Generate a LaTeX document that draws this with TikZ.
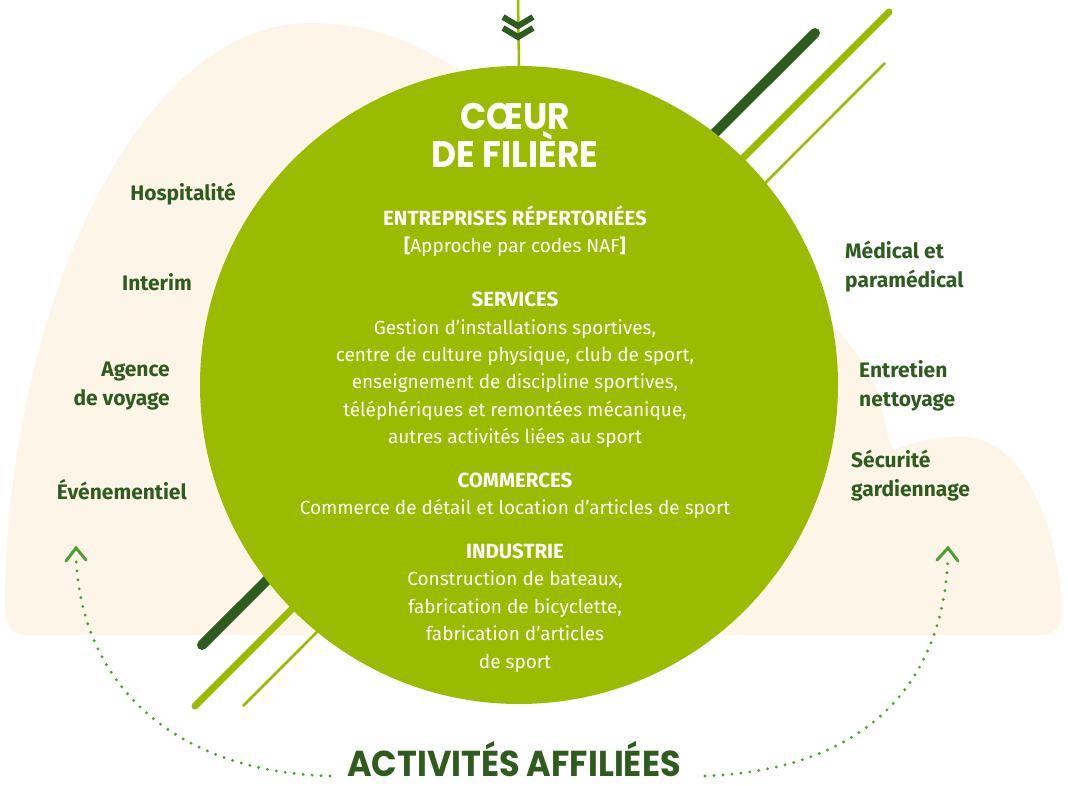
\documentclass[tikz,border=0pt]{standalone}
\usepackage{fontspec}
\setmainfont{Fira Sans}
\newfontfamily\titlefont{Poppins}[FakeStretch=0.93]
\usepackage{xcolor}
\definecolor{cCore}{HTML}{9BBB00}
\definecolor{cDark}{HTML}{2E5C1E}
\definecolor{cLeaf}{HTML}{4CA030}
\definecolor{cSand}{HTML}{FDF5E7}
\usetikzlibrary{positioning,calc}
\tikzset{
  core-disc/.style={circle,fill=cCore,minimum size=638pt,inner sep=0pt},
  core-title/.style={text=white,align=center,
    font=\titlefont\bfseries\fontsize{37}{38}\selectfont},
  core-text/.style={text=white,align=center,inner sep=0pt,
    font=\fontsize{19}{27.4}\selectfont},
  side-label/.style={text=cDark,inner sep=0pt,
    font=\bfseries\fontsize{21}{29}\selectfont},
  side-left/.style={side-label,anchor=east,align=right},
  side-right/.style={side-label,anchor=west,align=left},
  ray-dark/.style={draw=cDark,line width=10pt,line cap=round},
  ray-mid/.style={draw=cCore,line width=7pt,line cap=round},
  ray-thin/.style={draw=cCore,line width=2.6pt},
  feed-line/.style={draw=cCore,line width=2.5pt},
  chevron-down/.style={draw=cDark,line width=6pt,line join=miter},
  dotted-link/.style={draw=cLeaf,line width=3.2pt,line cap=round,
    dash pattern=on 0pt off 9pt},
  chevron-up/.style={draw=cLeaf,line width=3pt,line cap=round,line join=miter},
}
\newcommand{\corehead}[1]{{\bfseries\fontsize{20.5}{27.4}\selectfont #1}}
\begin{document}
\begin{tikzpicture}[x=1pt,y=-1pt]
  \useasboundingbox (0,0) rectangle (1068,786);
  % fond sable
  \fill[cSand] (28,635) .. controls (12,635) and (5,625) .. (5,605)
    .. controls (5,330) and (130,23) .. (310,23)
    .. controls (390,23) and (440,55) .. (520,110)
    .. controls (700,230) and (850,300) .. (880,400)
    .. controls (886,425) and (888,445) .. (895,450)
    .. controls (915,440) and (940,437) .. (963,437)
    .. controls (1035,437) and (1062,560) .. (1062,612)
    .. controls (1062,628) and (1055,635) .. (1040,635) -- cycle;
  % rayons
  \coordinate (rd-a) at (202,645); \coordinate (rd-b) at (815,33);
  \coordinate (rm-a) at (195,706); \coordinate (rm-b) at (889,12);
  \coordinate (rt-a) at (243,706); \coordinate (rt-b) at (885,63);
  \draw[ray-dark] (rd-a) -- (rd-b);
  \draw[ray-mid]  (rm-a) -- (rm-b);
  \draw[ray-thin] (rt-a) -- (rt-b);
  \node[core-disc] (core) at (519,385) {};
  \coordinate (feed) at (518,0);
  \draw[feed-line] (feed) -- (core.north);
  \foreach \dy in {0,11}
    \draw[chevron-down] (503,17+\dy) -- (518,26+\dy) -- (533,17+\dy);
  % coeur de filiere
  \node[core-title] (title) at (515,135) {CŒUR\\DE FILIÈRE};
  \node[core-text] (naf) at (515,231)
    {\corehead{ENTREPRISES RÉPERTORIÉES}\\\textbf{[}Approche par codes NAF\textbf{]}};
  \node[core-text] (services) at (515,370)
    {\corehead{SERVICES}\\Gestion d’installations sportives,\\
     centre de culture physique, club de sport,\\
     enseignement de discipline sportives,\\
     téléphériques et remontées mécanique,\\
     autres activités liées au sport};
  \node[core-text] (commerces) at (515,496)
    {\corehead{COMMERCES}\\Commerce de détail et location d’articles de sport};
  \node[core-text] (industrie) at (515,608)
    {\corehead{INDUSTRIE}\\Construction de bateaux,\\fabrication de bicyclette,\\
     fabrication d’articles\\de sport};
  % activites affiliees
  \node[side-left]  (hosp)  at (236,194) {Hospitalité};
  \node[side-left]  (inter) at (192,282) {Interim};
  \node[side-left]  (voy)   at (170,386) {Agence\\de voyage};
  \node[side-left]  (event) at (187,490) {Événementiel};
  \node[side-right] (med)   at (845,267) {Médical et\\paramédical};
  \node[side-right] (clean) at (859,386) {Entretien\\nettoyage};
  \node[side-right] (secu)  at (851,476) {Sécurité\\gardiennage};
  \node[text=cDark,font=\titlefont\bfseries\fontsize{36}{36}\selectfont,
    inner sep=0pt] (affil) at (514,759) {ACTIVITÉS AFFILIÉES};
  \coordinate (l-start) at (330,776); \coordinate (l-end) at (76,558);
  \coordinate (r-start) at (705,776); \coordinate (r-end) at (948,558);
  \draw[dotted-link] (l-start) .. controls (180,772) and (82,690) .. (l-end);
  \draw[dotted-link] (r-start) .. controls (860,770) and (942,690) .. (r-end);
  \draw[chevron-up] ($(l-end)+(-10,3)$) -- ($(l-end)+(0,-10)$) -- ($(l-end)+(10,2)$);
  \draw[chevron-up] ($(r-end)+(-11,2)$) -- ($(r-end)+(0,-10)$) -- ($(r-end)+(10,3)$);
\end{tikzpicture}
\end{document}
